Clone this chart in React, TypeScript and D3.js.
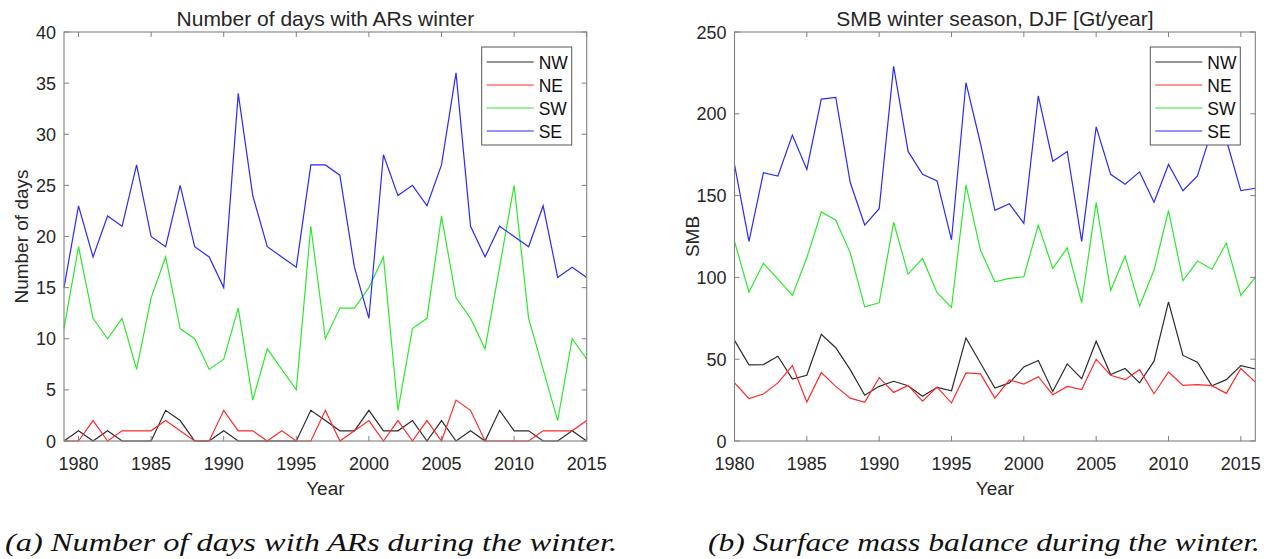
import React from 'react';
import * as d3 from 'd3';

// ---- data ----
const YEAR_TICKS = [1980, 1985, 1990, 1995, 2000, 2005, 2010, 2015];
const SERIES_NAMES = ['NW', 'NE', 'SW', 'SE'];
const SERIES_COLORS = ['#2b2b2b', '#ff2a2a', '#2ee82e', '#2a2aff'];

// (a) number of days with ARs, 1979..2015
const DAYS_START = 1979;
const DAYS_TICKS = [0, 5, 10, 15, 20, 25, 30, 35, 40];
const DAYS_NW = [0, 1, 0, 1, 0, 0, 0, 3, 2, 0, 0, 1, 0, 0, 0, 0, 0, 3, 2, 1, 1, 3, 1, 1, 2, 0, 2, 0, 1, 0, 3, 1, 1, 0, 0, 1, 0];
const DAYS_NE = [0, 0, 2, 0, 1, 1, 1, 2, 1, 0, 0, 3, 1, 1, 0, 1, 0, 0, 3, 0, 1, 2, 0, 2, 0, 2, 0, 4, 3, 0, 0, 0, 0, 1, 1, 1, 2];
const DAYS_SW = [11, 19, 12, 10, 12, 7, 14, 18, 11, 10, 7, 8, 13, 4, 9, 7, 5, 21, 10, 13, 13, 15, 18, 3, 11, 12, 22, 14, 12, 9, 17, 25, 12, 7, 2, 10, 8];
const DAYS_SE = [15, 23, 18, 22, 21, 27, 20, 19, 25, 19, 18, 15, 34, 24, 19, 18, 17, 27, 27, 26, 17, 12, 28, 24, 25, 23, 27, 36, 21, 18, 21, 20, 19, 23, 16, 17, 16];

// (b) SMB winter season, 1980..2016
const SMB_START = 1980;
const SMB_TICKS = [0, 50, 100, 150, 200, 250];
const SMB_NW = [61.5, 46.5, 46.7, 51.8, 37.9, 40.2, 65.2, 57, 43.6, 28, 33.4, 36.5, 33.8, 27.3, 32.8, 30.7, 63, 47.7, 32.4, 35.5, 45.3, 49.2, 30.3, 47.1, 38.1, 61, 40.6, 44.3, 35.5, 48.8, 85, 52.3, 48.2, 33.8, 37.5, 46.1, 44];
const SMB_NE = [35.5, 26, 28.7, 35.5, 46.1, 23.8, 41.8, 33.4, 26.2, 23.6, 38.7, 29.7, 34, 24.4, 33, 23.2, 41.6, 41, 26.2, 37.3, 34.8, 39.3, 28.3, 33.4, 31.4, 50, 40.2, 37.5, 43.6, 28.9, 42.2, 34, 34.4, 33.8, 29.1, 44.3, 36];
const SMB_SW = [122, 91, 108.6, 99, 89, 112, 140, 135, 115, 82, 84.5, 133.7, 102, 111.6, 90.6, 81.6, 156.5, 116.7, 97.3, 99.4, 100.4, 132, 105.5, 118, 84.5, 145.7, 92, 113, 82.4, 104.5, 141, 98, 110, 105, 121, 89, 100];
const SMB_SE = [169, 122, 164, 162, 187, 166, 209, 210, 158, 132, 142, 229, 177, 163, 159, 123, 219, 182, 141, 145, 133, 211, 171, 177, 122, 192, 163, 157, 164.5, 146, 169, 153, 162, 190, 184, 153, 154.5];

const TEXT = '#262626';
const AXIS = '#808080';
const SANS = 'Liberation Sans, Arimo, Arial, Helvetica, sans-serif';
const SERIF = 'Liberation Serif, Tinos, Times New Roman, serif';

type PanelProps = {
  left: number;
  right: number;
  top: number;
  bottom: number;
  xDomain: [number, number];
  yDomain: [number, number];
  yTicks: number[];
  start: number;
  data: number[][];
  title: string;
  yLabel: string;
};

function Panel({ left, right, top, bottom, xDomain, yDomain, yTicks, start, data, title, yLabel }: PanelProps) {
  const x = d3.scaleLinear().domain(xDomain).range([left, right]);
  const y = d3.scaleLinear().domain(yDomain).range([bottom, top]);
  const line = (vals: number[]) =>
    d3.line<number>()
      .x((_, i) => x(start + i))
      .y(v => y(v))(vals) || '';
  const tk = 5;
  const cx = (left + right) / 2;
  const cy = (top + bottom) / 2;
  const lgW = 90, lgH = 98, lgX = right - 15 - lgW, lgY = top + 15;

  return (
    <g>
      {/* series */}
      {data.map((vals, k) => (
        <path key={k} d={line(vals)} fill="none" stroke={SERIES_COLORS[k]} strokeWidth={1.2} />
      ))}

      {/* box */}
      <rect x={left} y={top} width={right - left} height={bottom - top} fill="none" stroke={AXIS} strokeWidth={1.1} />

      {/* x ticks */}
      {YEAR_TICKS.map(t => (
        <g key={t}>
          <line x1={x(t)} x2={x(t)} y1={bottom} y2={bottom - tk} stroke={AXIS} />
          <line x1={x(t)} x2={x(t)} y1={top} y2={top + tk} stroke={AXIS} />
          <text x={x(t)} y={bottom + 29} textAnchor="middle" fontSize={18} fill={TEXT}>{t}</text>
        </g>
      ))}

      {/* y ticks */}
      {yTicks.map(t => (
        <g key={t}>
          <line x1={left} x2={left + tk} y1={y(t)} y2={y(t)} stroke={AXIS} />
          <line x1={right} x2={right - tk} y1={y(t)} y2={y(t)} stroke={AXIS} />
          <text x={left - 8} y={y(t) + 6.5} textAnchor="end" fontSize={18} fill={TEXT}>{t}</text>
        </g>
      ))}

      {/* labels */}
      <text x={cx} y={top - 6} textAnchor="middle" fontSize={21} fill={TEXT}>{title}</text>
      <text x={cx} y={bottom + 54} textAnchor="middle" fontSize={19} fill={TEXT}>Year</text>
      <text transform={`translate(${left - 36},${cy}) rotate(-90)`} textAnchor="middle" fontSize={19} fill={TEXT}>{yLabel}</text>

      {/* legend */}
      <rect x={lgX} y={lgY} width={lgW} height={lgH} fill="#fff" stroke="#555" strokeWidth={1} />
      {SERIES_NAMES.map((name, k) => {
        const ry = lgY + 15 + k * 23;
        return (
          <g key={name}>
            <line x1={lgX + 5} x2={lgX + 52} y1={ry} y2={ry} stroke={SERIES_COLORS[k]} strokeWidth={1.2} />
            <text x={lgX + 57} y={ry + 6.5} fontSize={17.5} fill="#111">{name}</text>
          </g>
        );
      })}
    </g>
  );
}

export default function App() {
  return (
    <svg width={1277} height={559} style={{ position: 'absolute', left: 0, top: 0, background: '#fff', fontFamily: SANS }}>
      <Panel
        left={64} right={586.7} top={32} bottom={441}
        xDomain={[1979, 2015]} yDomain={[0, 40]} yTicks={DAYS_TICKS}
        start={DAYS_START}
        data={[DAYS_NW, DAYS_NE, DAYS_SW, DAYS_SE]}
        title="Number of days with ARs winter" yLabel="Number of days"
      />
      <Panel
        left={734.5} right={1255.3} top={32} bottom={441}
        xDomain={[1980, 2016]} yDomain={[0, 250]} yTicks={SMB_TICKS}
        start={SMB_START}
        data={[SMB_NW, SMB_NE, SMB_SW, SMB_SE]}
        title="SMB winter season, DJF [Gt/year]" yLabel="SMB"
      />
      <text x={5} y={551} style={{ fontFamily: SERIF, fontStyle: 'italic' }} fontSize={26}
        textLength={612} lengthAdjust="spacingAndGlyphs" fill="#111">
        (a) Number of days with ARs during the winter.
      </text>
      <text x={708} y={551} style={{ fontFamily: SERIF, fontStyle: 'italic' }} fontSize={26}
        textLength={552} lengthAdjust="spacingAndGlyphs" fill="#111">
        (b) Surface mass balance during the winter.
      </text>
    </svg>
  );
}
